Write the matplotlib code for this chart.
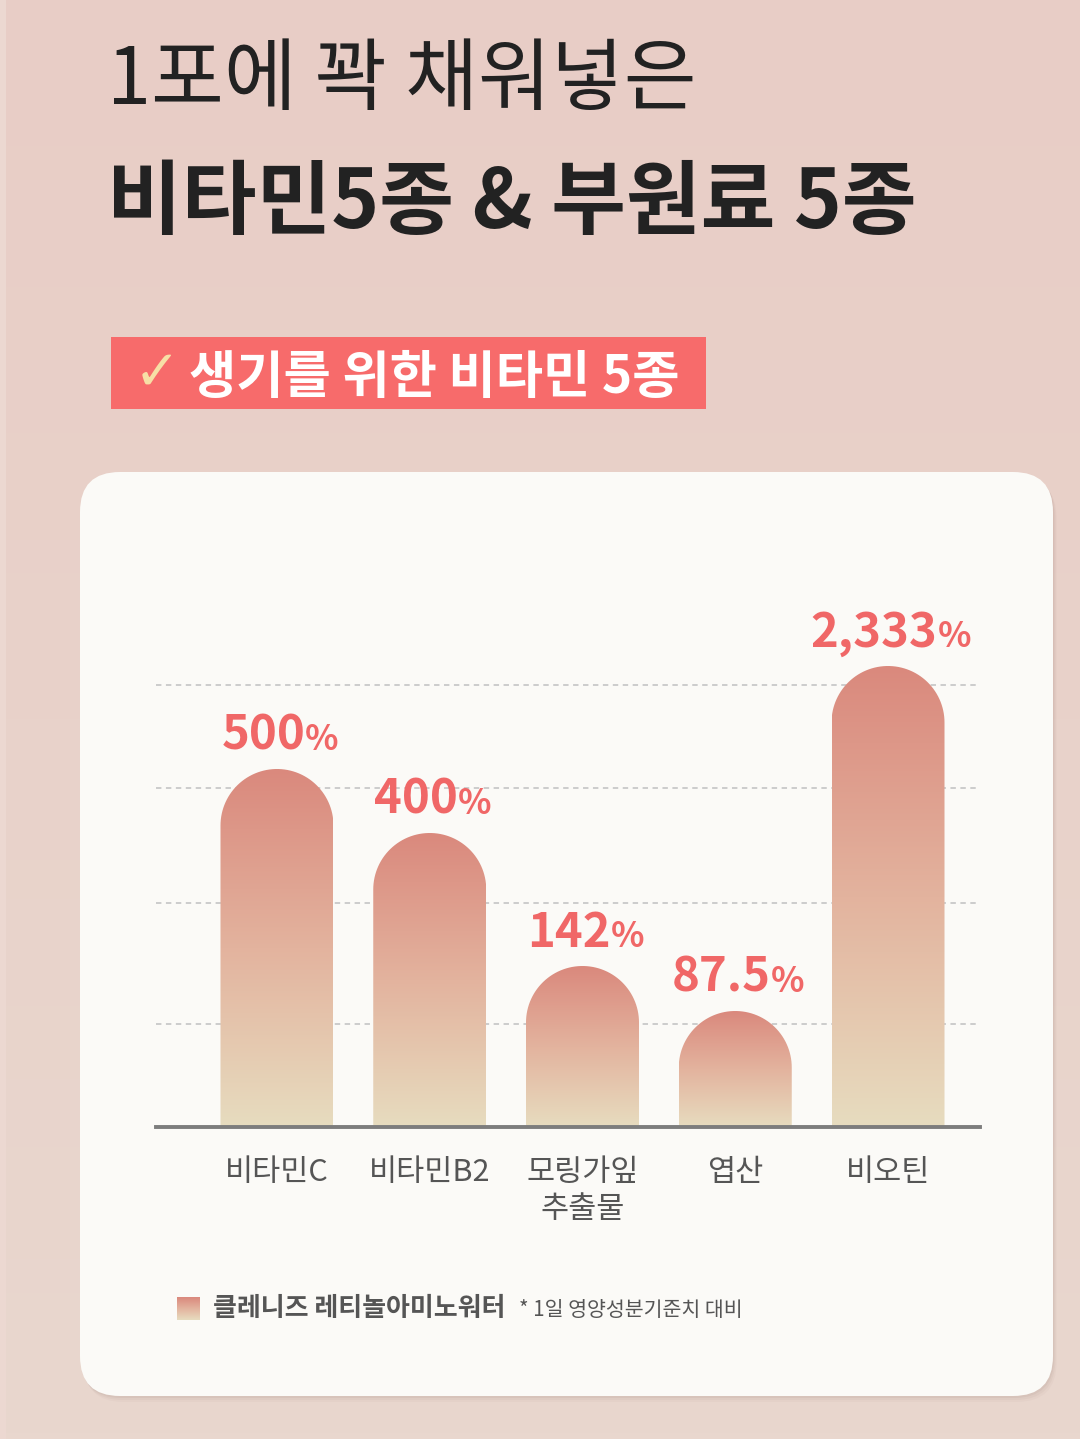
import numpy as np
import matplotlib
matplotlib.use('Agg')
import matplotlib.pyplot as plt
from matplotlib.patches import FancyBboxPatch, Rectangle, PathPatch
from matplotlib.path import Path
from matplotlib.colors import LinearSegmentedColormap

plt.rcParams['font.family'] = ['Noto Sans CJK KR', 'DejaVu Sans']

# ---------------- data ----------------
categories = ['비타민C', '비타민B2', '모링가잎\n추출물', '엽산', '비오틴']
value_labels = ['500', '400', '142', '87.5', '2,333']
percent_values = [500, 400, 142, 87.5, 2333]
# drawn bar heights as they appear in the picture (infographic, not proportional)
bar_heights = [358, 294, 161, 116, 461]
grid_levels = [103, 224, 339, 442]
title_line1 = '1포에 꽉 채워넣은'
title_line2 = '비타민5종 & 부원료 5종'
badge_text = '생기를 위한 비타민 5종'
legend_label = '클레니즈 레티놀아미노워터'
footnote = '* 1일 영양성분기준치 대비'

# ---------------- style ----------------
W, H = 1080, 1439
BG_TOP = '#e8cdc6'
BG_BOT = '#e9d7ce'
CARD = '#fbfaf7'
BADGE = '#f76b6b'
RED = '#f06767'
TXT = '#222222'
GRAYTXT = '#555555'
bar_cmap = LinearSegmentedColormap.from_list(
    'bar', ['#e7dcbf', '#e3b39e', '#da897d'])

fig = plt.figure(figsize=(W / 100, H / 100), dpi=100)
ax_bg = fig.add_axes([0, 0, 1, 1])
ax_bg.set_xlim(0, W)
ax_bg.set_ylim(H, 0)
ax_bg.axis('off')

# background gradient
bg = np.linspace(0, 1, 256).reshape(-1, 1)
bg_cmap = LinearSegmentedColormap.from_list('bg', [BG_TOP, BG_BOT])
ax_bg.imshow(bg, cmap=bg_cmap, extent=[0, W, H, 0], aspect='auto', zorder=0)
ax_bg.add_patch(Rectangle((0, 0), 6, H, color='#ecd8d1', zorder=1, lw=0))

# card with soft shadow
for k, a in [(6, 0.05), (4, 0.07), (2, 0.10)]:
    ax_bg.add_patch(FancyBboxPatch((80 + k * 0.6, 472 + k), 973, 924,
                                   boxstyle='round,pad=0,rounding_size=40',
                                   fc='#9a7f78', ec='none', alpha=a, zorder=2))
ax_bg.add_patch(FancyBboxPatch((80, 472), 973, 924,
                               boxstyle='round,pad=0,rounding_size=40',
                               fc=CARD, ec='none', zorder=3))

# titles
ax_bg.text(107, 82, title_line1, fontsize=57, color=TXT, ha='left',
           va='center', zorder=5)
ax_bg.text(107, 204, title_line2, fontsize=58.5, color=TXT, ha='left',
           va='center', fontweight='bold', zorder=5)

# badge
ax_bg.add_patch(Rectangle((111, 337), 595, 72, color=BADGE, lw=0, zorder=4))
ax_bg.text(157, 375, '✓', fontsize=40, color='#f7dfa6', ha='center',
           va='center', zorder=5, family=['DejaVu Sans'])
ax_bg.text(189, 377, badge_text, fontsize=37, color='white', ha='left',
           va='center', fontweight='bold', zorder=5)

# legend
leg_grad = np.linspace(1, 0, 64).reshape(-1, 1)
ax_bg.imshow(leg_grad, cmap=bar_cmap, extent=[177, 200, 1320, 1297],
             aspect='auto', zorder=5, vmin=0, vmax=1)
ax_bg.text(213, 1308, legend_label, fontsize=18.7, color=GRAYTXT,
           fontweight='bold', ha='left', va='center', zorder=5)
ax_bg.text(519, 1310, footnote, fontsize=14.8, color=GRAYTXT,
           ha='left', va='center', zorder=5)

# ---------------- chart ----------------
base_px, top_px, left_px, right_px = 1127, 600, 156, 980
ax = fig.add_axes([left_px / W, (H - base_px) / H,
                   (right_px - left_px) / W, (base_px - top_px) / H])
ax.patch.set_alpha(0)
unit = 152.75  # px per category
ax.set_xlim(-(277 - left_px) / unit, (right_px - 277) / unit)
ax.set_ylim(0, base_px - top_px)
ax.axis('off')

for g in grid_levels:
    ax.axhline(g, color='#c9c9c9', lw=1.3, ls=(0, (3, 2.5)), zorder=1)
ax.axhline(0, color='#7d7d7d', lw=2.8, zorder=4, clip_on=False)

bw = 113 / unit
rx = bw / 2
ry = 56.5
t = np.linspace(np.pi, 0, 60)
grad = np.linspace(0, 1, 256).reshape(-1, 1)
for i, h in enumerate(bar_heights):
    xs = [i - rx] + list(i + rx * np.cos(t)) + [i + rx, i - rx]
    ys = [0] + list(h - ry + ry * np.sin(t)) + [0, 0]
    verts = list(zip(xs, ys))
    codes = [Path.MOVETO] + [Path.LINETO] * (len(verts) - 2) + [Path.CLOSEPOLY]
    patch = PathPatch(Path(verts, codes), fc='none', ec='none', zorder=2)
    ax.add_patch(patch)
    im = ax.imshow(grad, cmap=bar_cmap, extent=[i - rx, i + rx, 0, h],
                   origin='lower', aspect='auto', zorder=2, vmin=0, vmax=1)
    im.set_clip_path(patch)

fig.canvas.draw()
renderer = fig.canvas.get_renderer()
for i, (lab, h) in enumerate(zip(value_labels, bar_heights)):
    tn = ax.text(i, h + 19, lab, fontsize=34, fontweight='bold', color=RED,
                 ha='left', va='baseline', zorder=5)
    tp = ax.text(i, h + 19, '%', fontsize=25, fontweight='bold', color=RED,
                 ha='left', va='baseline', zorder=5)
    wn = tn.get_window_extent(renderer).width
    wp = tp.get_window_extent(renderer).width
    total = wn + wp
    inv = ax.transData.inverted()
    x0_disp = ax.transData.transform((i, 0))[0] - total / 2 + 3
    x0 = inv.transform((x0_disp, 0))[0]
    x1 = inv.transform((x0_disp + wn, 0))[0]
    tn.set_x(x0)
    tp.set_x(x1)

for i, cat in enumerate(categories):
    ax.text(i, -30, cat, fontsize=22, color=GRAYTXT, ha='center', va='top',
            linespacing=1.27, zorder=5, clip_on=False)

fig.savefig('out.png', dpi=100, facecolor=BG_TOP)
